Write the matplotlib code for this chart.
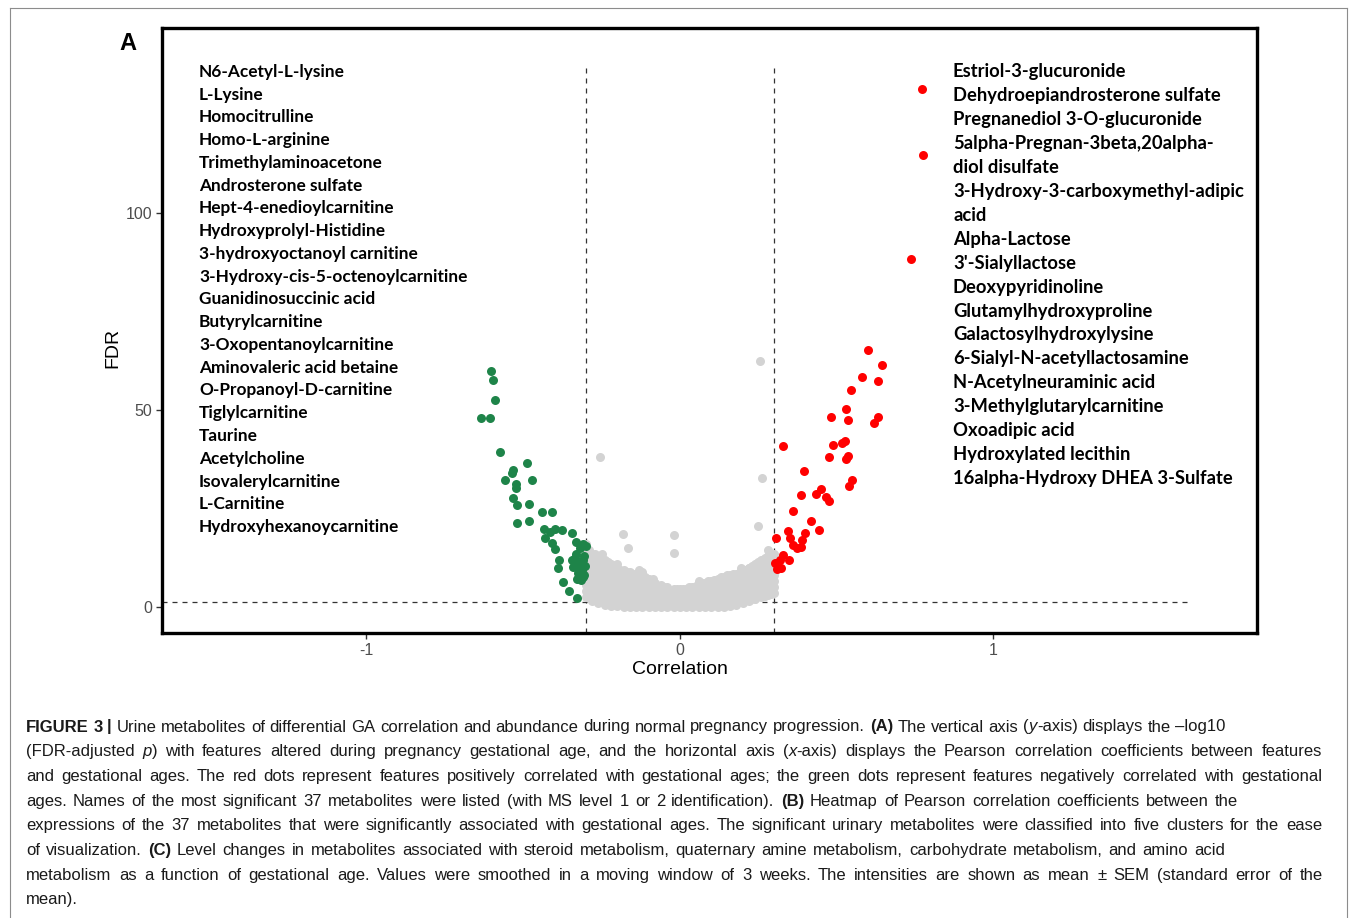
import matplotlib
matplotlib.use("Agg")
import matplotlib.pyplot as plt
from matplotlib.lines import Line2D

plt.rcParams["axes.unicode_minus"] = False

W, H = 1355, 918

# ---- data ----
green_x = [-0.603, -0.596, -0.590, -0.635, -0.606, -0.574, -0.488, -0.533, -0.536, -0.558,
           -0.472, -0.523, -0.523, -0.533, -0.520, -0.482, -0.520, -0.482, -0.440, -0.408,
           -0.434, -0.415, -0.399, -0.376, -0.344, -0.431, -0.408, -0.399, -0.332, -0.309,
           -0.319, -0.386, -0.389, -0.335, -0.329, -0.341, -0.313, -0.325, -0.329, -0.316,
           -0.373, -0.354, -0.329, -0.305, -0.310, -0.302, -0.315, -0.330, -0.305, -0.320,
           -0.345, -0.300, -0.310]
green_y = [59.9, 57.6, 52.5, 48.0, 48.0, 39.3, 36.5, 34.8, 34.0, 32.2,
           32.2, 31.2, 30.2, 27.7, 25.9, 26.1, 21.3, 21.8, 24.1, 24.1,
           19.8, 19.0, 19.8, 19.5, 18.8, 17.5, 16.2, 14.7, 16.5, 16.0,
           15.0, 11.9, 9.9, 12.4, 11.2, 10.2, 9.4, 8.6, 7.1, 6.9,
           6.3, 4.1, 2.3, 13.0, 12.0, 10.5, 11.0, 13.5, 8.0, 9.5,
           12.0, 15.5, 7.5]

red_x = [0.600, 0.644, 0.581, 0.632, 0.545, 0.530, 0.482, 0.536, 0.632, 0.619,
         0.329, 0.488, 0.517, 0.526, 0.475, 0.536, 0.530, 0.396, 0.549, 0.539,
         0.386, 0.434, 0.450, 0.466, 0.475, 0.360, 0.418, 0.443, 0.344, 0.399,
         0.306, 0.351, 0.389, 0.360, 0.373, 0.386, 0.329, 0.319, 0.348, 0.303,
         0.322, 0.310, 0.772, 0.775, 0.737]
red_y = [65.2, 61.4, 58.4, 57.4, 55.1, 50.3, 48.2, 47.5, 48.2, 46.7,
         40.9, 41.1, 41.6, 42.1, 38.1, 38.3, 37.6, 34.5, 32.2, 30.7,
         28.4, 28.7, 29.9, 27.9, 26.9, 24.4, 21.8, 19.5, 19.3, 18.8,
         17.5, 17.5, 17.0, 15.7, 15.0, 15.2, 13.2, 11.9, 11.9, 11.2,
         9.9, 9.6, 131.5, 114.7, 88.3]

# grey (non-significant) cloud, column by column
gray_cols = [
    (-0.30, [2.5, 4, 5.5, 7, 8.5, 10, 11.5, 13, 14.5, 16]),
    (-0.29, [2.75, 4.25, 5.75, 7.25, 8.75, 10.25, 11.75, 13.25, 14.5]),
    (-0.28, [1.5, 3, 4.5, 6, 7.5, 9, 10.5, 12, 13.5]),
    (-0.27, [1.95, 3.45, 4.95, 6.45, 7.95, 9.45, 10.95, 12.45, 13.5]),
    (-0.26, [1, 2.5, 4, 5.5, 7, 8.5, 10, 11.5, 13]),
    (-0.25, [1.55, 3.05, 4.55, 6.05, 7.55, 9.05, 10.55, 12.05]),
    (-0.24, [0.5, 2, 3.5, 5, 6.5, 8, 9.5, 11, 12]),
    (-0.23, [1.2, 2.7, 4.2, 5.7, 7.2, 8.7, 10.2, 11.5]),
    (-0.22, [0.3, 1.8, 3.3, 4.8, 6.3, 7.8, 9.3, 11]),
    (-0.21, [1.0, 2.5, 4.0, 5.5, 7.0, 8.5, 10.0, 10.5]),
    (-0.20, [0.2, 1.7, 3.2, 4.7, 6.2, 7.7, 9.2, 10]),
    (-0.19, [0.8, 2.3, 3.8, 5.3, 6.8, 8.3, 9.5]),
    (-0.18, [0, 1.5, 3, 4.5, 6, 7.5, 9, 9.5]),
    (-0.17, [0.75, 2.25, 3.75, 5.25, 6.75, 8.25, 9]),
    (-0.16, [0, 1.5, 3, 4.5, 6, 7.5, 9]),
    (-0.15, [0.75, 2.25, 3.75, 5.25, 6.75, 8.25]),
    (-0.14, [0, 1.5, 3, 4.5, 6, 7.5, 8]),
    (-0.13, [0.75, 2.25, 3.75, 5.25, 6.75, 8]),
    (-0.12, [0, 1.5, 3, 4.5, 6, 7.5, 9]),
    (-0.11, [0.75, 2.25, 3.75, 5.25, 6.75, 7.5]),
    (-0.10, [0, 1.5, 3, 4.5, 6, 7]),
    (-0.09, [0.75, 2.25, 3.75, 5.25, 6.5]),
    (-0.08, [0, 1.5, 3, 4.5, 6]),
    (-0.07, [0.75, 2.25, 3.75, 5.25]),
    (-0.06, [0, 1.5, 3, 4.5, 5.5]),
    (-0.05, [0.75, 2.25, 3.75, 5]),
    (-0.04, [0, 1.5, 3, 4.5, 5]),
    (-0.03, [0.75, 2.25, 3.75]),
    (-0.02, [0, 1.5, 3, 4.5]),
    (-0.01, [0.75, 2.25, 3.75, 4.5]),
    (0.00, [0, 1.5, 3, 4.5]),
    (0.01, [0.75, 2.25, 3.75, 4.5]),
    (0.02, [0, 1.5, 3, 4.5]),
    (0.03, [0.75, 2.25, 3.75, 5]),
    (0.04, [0, 1.5, 3, 4.5, 5]),
    (0.05, [0.75, 2.25, 3.75, 5.25]),
    (0.06, [0, 1.5, 3, 4.5, 6]),
    (0.07, [0.75, 2.25, 3.75, 5.25, 6]),
    (0.08, [0, 1.5, 3, 4.5, 6]),
    (0.09, [0.75, 2.25, 3.75, 5.25, 6.5]),
    (0.10, [0, 1.5, 3, 4.5, 6, 6.5]),
    (0.11, [0.75, 2.25, 3.75, 5.25, 6.75]),
    (0.12, [0, 1.5, 3, 4.5, 6, 7]),
    (0.13, [0.75, 2.25, 3.75, 5.25, 6.75, 7.5]),
    (0.14, [0, 1.5, 3, 4.5, 6, 7.5]),
    (0.15, [1.0, 2.5, 4.0, 5.5, 7.0, 8]),
    (0.16, [0.3, 1.8, 3.3, 4.8, 6.3, 8]),
    (0.17, [1.2, 2.7, 4.2, 5.7, 7.2, 8.5]),
    (0.18, [0.5, 2, 3.5, 5, 6.5, 8.5]),
    (0.19, [1.5, 3.0, 4.5, 6.0, 7.5, 9]),
    (0.20, [1, 2.5, 4, 5.5, 7, 9]),
    (0.21, [2.0, 3.5, 5.0, 6.5, 8.0, 9.5]),
    (0.22, [1.5, 3, 4.5, 6, 7.5, 9, 10]),
    (0.23, [2.5, 4.0, 5.5, 7.0, 8.5, 10.0, 10.5]),
    (0.24, [2, 3.5, 5, 6.5, 8, 9.5, 11]),
    (0.25, [3.0, 4.5, 6.0, 7.5, 9.0, 10.5, 11.5]),
    (0.26, [2.5, 4, 5.5, 7, 8.5, 10, 12]),
    (0.27, [2.8, 4.3, 5.8, 7.3, 8.8, 10.3, 12.5]),
    (0.28, [3, 4.5, 6, 7.5, 9, 10.5, 12, 13]),
    (0.29, [3.3, 4.8, 6.3, 7.8, 9.3, 10.8, 12.3, 13.3]),
    (0.30, [3.5, 5, 6.5, 8, 9.5, 11, 12.5, 13.5]),
]
gray_extra_x = [-0.255, -0.182, -0.166, -0.019, -0.019, 0.249, 0.255, 0.262,
                -0.13, 0.06, -0.20, 0.17, 0.22, -0.25, 0.28, -0.085, 0.195]
gray_extra_y = [38.1, 18.5, 15.0, 18.3, 13.7, 20.6, 62.4, 32.7,
                9.5, 6.5, 11.0, 8.0, 9.8, 13.5, 14.5, 7.0, 9.8]

left_names = ["N6-Acetyl-L-lysine", "L-Lysine", "Homocitrulline", "Homo-L-arginine",
              "Trimethylaminoacetone", "Androsterone sulfate", "Hept-4-enedioylcarnitine",
              "Hydroxyprolyl-Histidine", "3-hydroxyoctanoyl carnitine",
              "3-Hydroxy-cis-5-octenoylcarnitine", "Guanidinosuccinic acid",
              "Butyrylcarnitine", "3-Oxopentanoylcarnitine", "Aminovaleric acid betaine",
              "O-Propanoyl-D-carnitine", "Tiglylcarnitine", "Taurine", "Acetylcholine",
              "Isovalerylcarnitine", "L-Carnitine", "Hydroxyhexanoycarnitine"]
right_names = ["Estriol-3-glucuronide", "Dehydroepiandrosterone sulfate",
               "Pregnanediol 3-O-glucuronide", "5alpha-Pregnan-3beta,20alpha-",
               "diol disulfate", "3-Hydroxy-3-carboxymethyl-adipic", "acid",
               "Alpha-Lactose", "3'-Sialyllactose", "Deoxypyridinoline",
               "Glutamylhydroxyproline", "Galactosylhydroxylysine",
               "6-Sialyl-N-acetyllactosamine", "N-Acetylneuraminic acid",
               "3-Methylglutarylcarnitine", "Oxoadipic acid", "Hydroxylated lecithin",
               "16alpha-Hydroxy DHEA 3-Sulfate"]

# *bold*, _italic_
caption = [
    "*FIGURE 3 |* Urine metabolites of differential GA correlation and abundance during normal pregnancy progression. *(A)* The vertical axis (_y_-axis) displays the \u2013log10",
    "(FDR-adjusted _p_) with features altered during pregnancy gestational age, and the horizontal axis (_x_-axis) displays the Pearson correlation coefficients between features",
    "and gestational ages. The red dots represent features positively correlated with gestational ages; the green dots represent features negatively correlated with gestational",
    "ages. Names of the most significant 37 metabolites were listed (with MS level 1 or 2 identification). *(B)* Heatmap of Pearson correlation coefficients between the",
    "expressions of the 37 metabolites that were significantly associated with gestational ages. The significant urinary metabolites were classified into five clusters for the ease",
    "of visualization. *(C)* Level changes in metabolites associated with steroid metabolism, quaternary amine metabolism, carbohydrate metabolism, and amino acid",
    "metabolism as a function of gestational age. Values were smoothed in a moving window of 3 weeks. The intensities are shown as mean \u00b1 SEM (standard error of the",
    "mean).",
]
caption_right = [None, 1322, 1322, 1238, 1322, 1225, 1323, None]


def fx(px):
    return px / W


def fy(py):
    return 1 - py / H


def parse(line):
    words, cur, buf = [], [], ""
    bold = ital = False
    for ch in line + " ":
        if ch in "*_ ":
            if buf:
                cur.append((buf, bold, ital))
                buf = ""
            if ch == "*":
                bold = not bold
            elif ch == "_":
                ital = not ital
            elif cur:
                words.append(cur)
                cur = []
        else:
            buf += ch
    return words


fig = plt.figure(figsize=(W / 100, H / 100), dpi=100)
ax = fig.add_axes([fx(162), fy(633), fx(1257) - fx(162), fy(28) - fy(633)])

gx, gy = [], []
for x, ys in gray_cols:
    for y in ys:
        gx.append(x)
        gy.append(y)
gx += gray_extra_x
gy += gray_extra_y

ax.scatter(gx, gy, s=42, color="#d3d3d3", linewidths=0, zorder=2)
ax.scatter(green_x, green_y, s=42, color="#1e8449", linewidths=0, zorder=3)
ax.scatter(red_x, red_y, s=42, color="#ff0000", linewidths=0, zorder=3)

ax.set_xlim(-1.652, 1.8405)
ax.set_ylim(-6.6, 146.95)
dash = dict(color="#333333", lw=0.9, ls=(0, (4, 4)), zorder=1)
ax.plot([-0.3, -0.3], [-6.6, 138], **dash)
ax.plot([0.3, 0.3], [-6.6, 138], **dash)
ax.plot([-1.652, 1.63], [1.3, 1.3], **dash)

ax.set_xticks([-1, 0, 1])
ax.set_yticks([0, 50, 100])
ax.tick_params(length=4, width=1, color="#333333", labelcolor="#4d4d4d",
               labelsize=11.5, pad=3)
for lab in ax.get_xticklabels() + ax.get_yticklabels():
    lab.set_family("Liberation Sans")
for sp in ax.spines.values():
    sp.set_linewidth(2.4)

ax.set_xlabel("Correlation", fontsize=14, family="Liberation Sans")
ax.set_ylabel("FDR", fontsize=14, family="Liberation Sans")
ax.xaxis.set_label_coords((680 - 162) / 1095, (633 - 670) / 605)
ax.xaxis.label.set_va("center")
ax.yaxis.set_label_coords((113 - 162) / 1095, (633 - 348) / 605)
ax.yaxis.label.set_va("center")

for i, name in enumerate(left_names):
    fig.text(fx(199), fy(72 + i * 22.75), name, fontsize=12.4, weight="bold",
             family="Lato", va="center")
for i, name in enumerate(right_names):
    fig.text(fx(953), fy(72 + i * 23.9), name, fontsize=13.2, weight="bold",
             family="Lato", va="center")

fig.text(fx(128), fy(44), "A", fontsize=17, weight="bold", family="Liberation Sans",
         ha="center", va="center")

# outer frame of the figure page
frame = dict(color="#8c8c8c", lw=0.8)
fig.add_artist(Line2D([fx(10), fx(10)], [0, fy(8)], **frame))
fig.add_artist(Line2D([fx(10), fx(1347)], [fy(8), fy(8)], **frame))
fig.add_artist(Line2D([fx(1347), fx(1347)], [0, fy(8)], **frame))

# caption, word by word so mixed styles and justification work
renderer = fig.canvas.get_renderer()
csize = 12.0


def width_of(t):
    return t.get_window_extent(renderer).width


probe1 = fig.text(0, 0, "a a", fontsize=csize, family="Liberation Sans")
probe2 = fig.text(0, 0, "aa", fontsize=csize, family="Liberation Sans")
space = width_of(probe1) - width_of(probe2)
probe1.remove()
probe2.remove()

for i, line in enumerate(caption):
    y = fy(727 + i * 24.7)
    words = parse(line)
    placed = []
    total = 0
    for word in words:
        parts = []
        for txt, b, it in word:
            t = fig.text(0, y, txt, fontsize=csize, family="Liberation Sans",
                         weight="bold" if b else "normal",
                         style="italic" if it else "normal",
                         va="center", color="#1a1a1a")
            w = width_of(t)
            parts.append((t, w))
            total += w
        placed.append(parts)
    right = caption_right[i]
    if right is None or len(placed) < 2:
        gap = space
    else:
        gap = max((right - 26 - total) / (len(placed) - 1), space * 0.5)
    x = 26
    for parts in placed:
        for t, w in parts:
            t.set_x(fx(x))
            x += w
        x += gap

fig.savefig("out.png", dpi=100)
